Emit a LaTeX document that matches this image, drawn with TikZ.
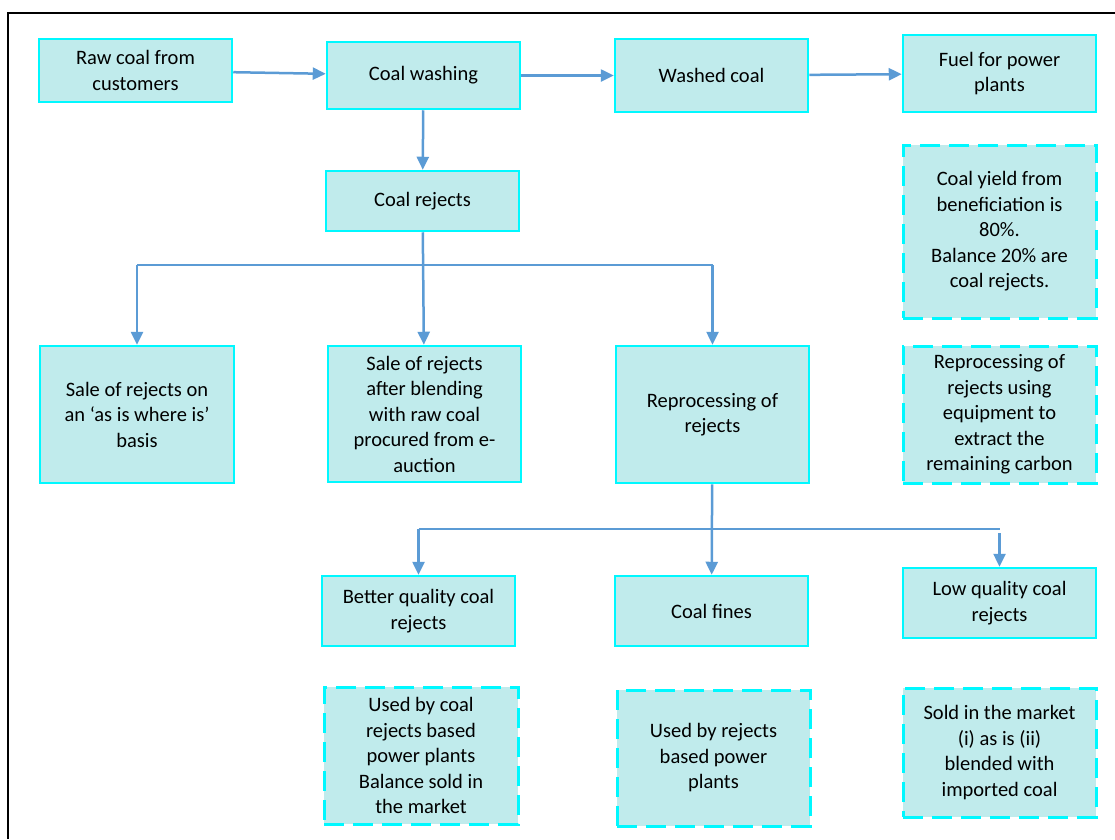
\documentclass[tikz,border=0pt]{standalone}
\usepackage{fontspec}
\setmainfont{Carlito}
\usetikzlibrary{arrows.meta}
\definecolor{boxfill}{RGB}{192,235,236}
\definecolor{boxline}{RGB}{0,248,255}
\definecolor{flow}{RGB}{91,155,213}
\begin{document}
\begin{tikzpicture}[x=1pt, y=-1pt,
  box/.style={draw=boxline, fill=boxfill, line width=2.5pt, align=center, inner sep=0pt,
    font=\fontsize{20.5}{25.5}\selectfont, minimum width=193pt},
  note/.style={box, line width=3pt, dash pattern=on 20pt off 9pt}]
\useasboundingbox (0,0) rectangle (1115,839);
\draw[line width=2pt] (8,839) -- (8,13) -- (1115,13);

\node[box, minimum height=63pt] (raw) at (135.5,70.5) {Raw coal from\\customers};
\node[box, minimum height=67pt] (wash) at (423.5,75.5) {Coal washing};
\node[box, minimum height=73pt] (washed) at (711.5,75.5) {Washed coal};
\node[box, minimum height=77pt] (fuel) at (999.5,73.5) {Fuel for power\\plants};
\node[box, minimum height=60pt] (rej) at (422.5,201) {Coal rejects};
\node[note, minimum height=173pt] (yield) at (999.5,231.5)
  {Coal yield from\\beneficiation is\\80\%.\\Balance 20\% are\\coal rejects.};

\node[box, minimum height=137pt, minimum width=194pt] (asis) at (137,414.5)
  {Sale of rejects on\\an ‘as is where is’\\basis};
\node[box, minimum height=136pt] (blend) at (424.5,414)
  {Sale of rejects\\after blending\\with raw coal\\procured from e-\\auction};
\node[box, minimum height=137pt] (reproc) at (712.5,414.5) {Reprocessing of\\rejects};
\node[note, minimum height=137pt] (extract) at (999.5,414.5)
  {Reprocessing of\\rejects using\\equipment to\\extract the\\remaining carbon};

\node[box, minimum height=70pt] (better) at (418.5,611) {Better quality coal\\rejects};
\node[box, minimum height=70pt] (fines) at (711.5,611) {Coal fines};
\node[box, minimum height=70pt] (low) at (999.5,603) {Low quality coal\\rejects};

\node[note, minimum height=137pt, minimum width=194pt] (used1) at (421,755.5)
  {Used by coal\\rejects based\\power plants\\Balance sold in\\the market};
\node[note, minimum height=136pt] (used2) at (713.5,758)
  {Used by rejects\\based power\\plants};
\node[note, minimum height=129pt] (sold) at (999.5,752.5)
  {Sold in the market\\(i) as is (ii)\\blended with\\imported coal};

\coordinate (split1) at (423,265);
\coordinate (split2) at (712,529);

\begin{scope}[draw=flow, line width=2.5pt, -{Triangle[length=13pt, width=12pt]}]
\draw (raw) -- (wash);
\draw (wash) -- (washed);
\draw (washed) -- (fuel);
\draw (wash) -- (rej);
\draw (rej) -- (blend);
\draw (asis.north |- split1) -- (asis.north);
\draw (reproc.north |- split1) -- (reproc.north);
\draw (reproc) -- (fines);
\draw (better.north |- split2) -- (better.north);
\draw ([yshift=-4pt]low.north |- split2) -- (low.north);
\end{scope}
\draw[flow, line width=2.5pt] (asis.north |- split1) -- (reproc.north |- split1);
\draw[flow, line width=2.5pt] (better.north |- split2) -- (low.north |- split2);
\end{tikzpicture}
\end{document}
